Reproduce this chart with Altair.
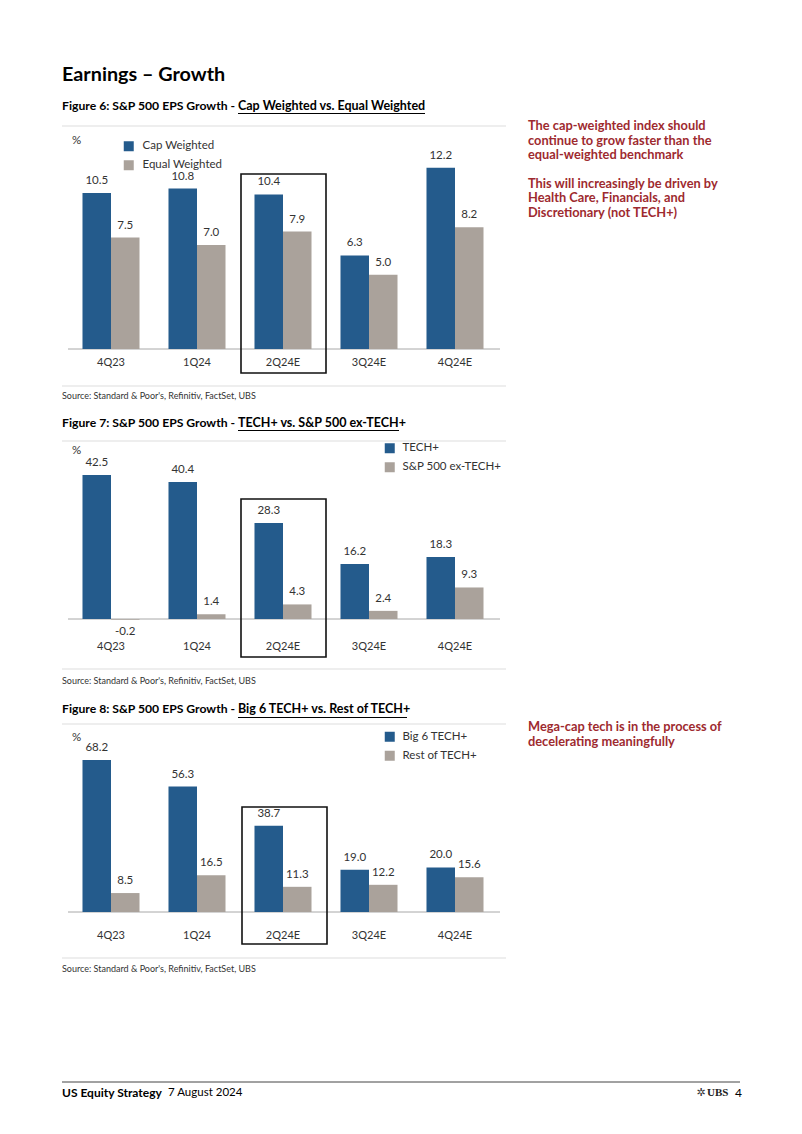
import altair as alt
import pandas as pd

FONT = "Lato"
BLUE = "#245b8c"
GREY = "#aaa29b"
RED = "#9e2a2f"
TXT = "#333333"

quarters = ["4Q23", "1Q24", "2Q24E", "3Q24E", "4Q24E"]

fig6_series = ["Cap Weighted", "Equal Weighted"]
fig6_cap = [10.5, 10.8, 10.4, 6.3, 12.2]
fig6_equal = [7.5, 7.0, 7.9, 5.0, 8.2]

fig7_series = ["TECH+", "S&P 500 ex-TECH+"]
fig7_tech = [42.5, 40.4, 28.3, 16.2, 18.3]
fig7_ex = [-0.2, 1.4, 4.3, 2.4, 9.3]

fig8_series = ["Big 6 TECH+", "Rest of TECH+"]
fig8_big6 = [68.2, 56.3, 38.7, 19.0, 20.0]
fig8_rest = [8.5, 16.5, 11.3, 12.2, 15.6]

SOURCE = "Source: Standard & Poor's, Refinitiv, FactSet, UBS"

ONE = pd.DataFrame({"k": [0]})


def P(v):
    return v - 8


def txt(s, x, y, size, weight="normal", color=TXT, align="left", lh=None, font=FONT):
    kw = dict(text=s, align=align, baseline="middle", fontSize=size,
              fontWeight=weight, color=color, font=font)
    if lh:
        kw["lineHeight"] = lh
    return alt.Chart(ONE).mark_text(**kw).encode(x=alt.value(P(x)), y=alt.value(P(y)))


def hrule(x1, x2, y, color, width=1.0):
    return alt.Chart(ONE).mark_rule(color=color, strokeWidth=width).encode(
        x=alt.value(P(x1)), x2=alt.value(P(x2)), y=alt.value(P(y)))


def box(x1, x2, y1, y2):
    return alt.Chart(ONE).mark_rect(fillOpacity=0, stroke="#111111", strokeWidth=1.6).encode(
        x=alt.value(P(x1)), x2=alt.value(P(x2)), y=alt.value(P(y1)), y2=alt.value(P(y2)))


LABEL_EXPR = "replace(format(datum.value, '.1f'), '\u2212', '-')"


def figure(a, b, names, base, ppu, leg_x, leg_y, leg_off, label_y):
    df = pd.DataFrame({
        "quarter": quarters * 2,
        "series": [names[0]] * 5 + [names[1]] * 5,
        "value": a + b,
    })
    xs = alt.Scale(domain=quarters, range=[P(68), P(498)], paddingInner=0.337, paddingOuter=0.1685)
    ys = alt.Scale(domain=[0, 10], range=[P(base), P(base) - 10 * ppu], nice=False, zero=False)
    xo = alt.Scale(domain=names, paddingInner=0, paddingOuter=0)
    enc = dict(
        x=alt.X("quarter:N", scale=xs, axis=None, sort=quarters),
        xOffset=alt.XOffset("series:N", scale=xo, sort=names),
        y=alt.Y("value:Q", scale=ys, axis=None),
    )
    ch = alt.Chart(df)
    bars = ch.mark_bar().encode(
        **enc,
        color=alt.Color(
            "series:N", scale=alt.Scale(domain=names, range=[BLUE, GREY]),
            legend=alt.Legend(
                orient="none", legendX=P(leg_x), legendY=P(leg_y), title=None,
                symbolType="square", symbolSize=100, symbolStrokeWidth=0,
                labelFont=FONT, labelFontSize=11.5, labelColor=TXT, labelOffset=leg_off,
                rowPadding=6, padding=0,
            ),
        ),
    )
    lab = ch.transform_calculate(label=LABEL_EXPR)
    pos = lab.transform_filter("datum.value >= 0").mark_text(
        dy=-12, fontSize=11.5, font=FONT, color=TXT).encode(**enc, text="label:N")
    neg = lab.transform_filter("datum.value < 0").mark_text(
        dy=12, fontSize=11.5, font=FONT, color=TXT).encode(**enc, text="label:N")
    cats = alt.Chart(pd.DataFrame({"quarter": quarters})).mark_text(
        fontSize=11, font=FONT, color=TXT).encode(
        x=alt.X("quarter:N", scale=xs, axis=None, sort=quarters),
        y=alt.value(P(label_y)), text="quarter:N")
    baseline = alt.Chart(ONE).mark_rule(color="#a8a8a8", strokeWidth=1).encode(
        x=alt.value(P(68)), x2=alt.value(P(500)),
        y=alt.Y(datum=0, scale=ys, axis=None))
    return alt.layer(baseline, bars, pos, neg, cats)


f6 = figure(fig6_cap, fig6_equal, fig6_series, 349, 14.86, 123, 140.5, 8, 363)
f7 = figure(fig7_tech, fig7_ex, fig7_series, 619, 3.39, 384, 442.5, 7, 647)
f8 = figure(fig8_big6, fig8_rest, fig8_series, 912, 2.229, 384, 731, 7, 936)

LIGHT = "#dddddd"
decor = [
    txt("Earnings – Growth", 62, 75, 19.8, "bold", "#000000"),
    # Figure 6
    txt("Figure 6: S&P 500 EPS Growth -", 62, 106, 12.2, "bold", "#000000"),
    txt("Cap Weighted vs. Equal Weighted", 238, 106, 12.5, "bold", "#000000"),
    hrule(238, 425, 113.5, "#000000", 1.2),
    hrule(62, 506, 126, LIGHT),
    txt("%", 72, 141, 11.5),
    box(241, 326, 174, 373),
    hrule(62, 506, 386, LIGHT),
    txt(SOURCE, 62, 396, 9),
    # Figure 7
    txt("Figure 7: S&P 500 EPS Growth -", 62, 423, 12.2, "bold", "#000000"),
    txt("TECH+ vs. S&P 500 ex-TECH+", 238, 423, 12.5, "bold", "#000000"),
    hrule(238, 399, 430.5, "#000000", 1.2),
    hrule(62, 506, 441, LIGHT),
    txt("%", 72, 450.5, 11.5),
    box(241, 326, 499, 657),
    hrule(62, 506, 669, LIGHT),
    txt(SOURCE, 62, 681, 9),
    # Figure 8
    txt("Figure 8: S&P 500 EPS Growth -", 62, 709, 12.2, "bold", "#000000"),
    txt("Big 6 TECH+ vs. Rest of TECH+", 238, 709, 12.5, "bold", "#000000"),
    hrule(238, 407, 717.5, "#000000", 1.2),
    hrule(62, 506, 724, LIGHT),
    txt("%", 72, 737.5, 11.5),
    box(242, 327, 807, 944),
    hrule(62, 506, 958, LIGHT),
    txt(SOURCE, 62, 969, 9),
    # Side comments
    txt(["The cap-weighted index should", "continue to grow faster than the",
         "equal-weighted benchmark"], 528, 126, 12.8, "bold", RED, lh=14.7),
    txt(["This will increasingly be driven by", "Health Care, Financials, and",
         "Discretionary (not TECH+)"], 528, 183.5, 12.8, "bold", RED, lh=14.5),
    txt(["Mega-cap tech is in the process of", "decelerating meaningfully"],
        528, 727, 12.8, "bold", RED, lh=14.7),
    # Footer
    hrule(62, 740, 1082, "#444444", 1),
    txt("US Equity Strategy", 62, 1093, 12, "bold", "#000000"),
    txt("7 August 2024", 168, 1093, 11.5, "normal", "#000000"),
    txt("✲", 701, 1093, 11, "normal", "#333333", align="center", font="DejaVu Sans"),
    txt("UBS", 707, 1093, 11, "bold", "#222222", font="Liberation Serif"),
    txt("4", 735, 1093, 12, "normal", "#000000"),
]

chart = alt.layer(f6, f7, f8, *decor).resolve_scale(
    x="independent", y="independent", xOffset="independent", color="independent"
).properties(
    width=786, height=1118, padding=0,
    autosize=alt.AutoSizeParams(type="none"),
).configure_view(stroke=None)

chart.save("out.html", embed_options={"renderer": "svg", "actions": False})
